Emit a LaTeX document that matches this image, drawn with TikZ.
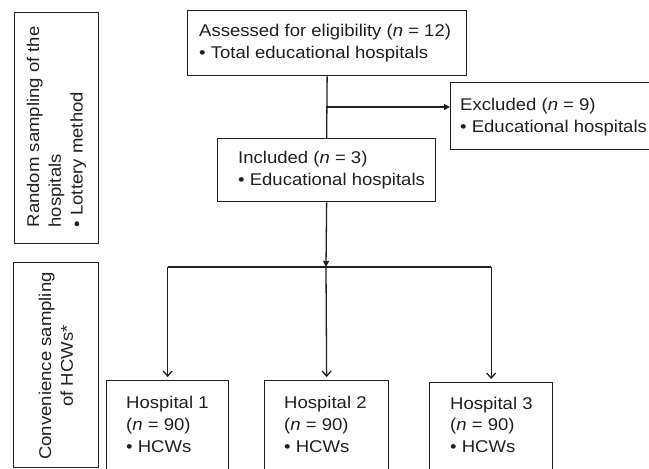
\documentclass[tikz,border=0pt]{standalone}
\usepackage{fontspec}
\setmainfont{Liberation Sans}[FakeStretch=1.09]
\usetikzlibrary{arrows.meta}
\definecolor{ink}{HTML}{231F20}
\begin{document}
\begin{tikzpicture}[x=1pt,y=-1pt,
  box/.style={draw=ink, line width=1.3pt, inner sep=0pt, anchor=north west},
  txt/.style={inner sep=0pt, align=left, text=ink, font=\fontsize{17}{21.8}\selectfont},
  conn/.style={draw=ink, line width=1.3pt},
  fillhead/.style={-{Triangle[length=6pt,width=6pt]}},
  openhead/.style={-{Straight Barb[length=5pt,width=9pt]}, shorten >=3pt}]
\useasboundingbox (0,0) rectangle (649,469);
\fill[white] (0,0) rectangle (649,469);
\clip (0,0) rectangle (649,469);
% boxes
\node[box, minimum width=84pt, minimum height=231pt] (lb1) at (14,12) {};
\node[box, minimum width=85pt, minimum height=205pt] (lb2) at (13,262) {};
\node[box, minimum width=279pt, minimum height=65pt] (top) at (187,10) {};
\node[box, minimum width=215pt, minimum height=67pt] (excl) at (450,82) {};
\node[box, minimum width=218pt, minimum height=63pt] (inc) at (217,138) {};
\node[box, minimum width=122pt, minimum height=120pt] (h1) at (106,380) {};
\node[box, minimum width=124pt, minimum height=120pt] (h2) at (264,380) {};
\node[box, minimum width=123pt, minimum height=120pt] (h3) at (429,382) {};
% texts
\node[txt, rotate=90, anchor=west] (tlb1) at (56.5,227.5) {Random sampling of the\\hospitals\\• Lottery method};
\node[txt, rotate=90, align=center] (tlb2) at (56,366) {Convenience sampling\\of HCWs*};
\node[txt, anchor=west] (ttop) at (199,43) {Assessed for eligibility (\textit{n} = 12)\\• Total educational hospitals};
\node[txt, anchor=west] (texcl) at (460,117) {Excluded (\textit{n} = 9)\\• Educational hospitals};
\node[txt, anchor=west] (tinc) at (238,170) {Included (\textit{n} = 3)\\• Educational hospitals};
\node[txt, anchor=north west] (th1) at (126,396) {Hospital 1\\(\textit{n} = 90)\\• HCWs};
\node[txt, anchor=north west] (th2) at (284,396) {Hospital 2\\(\textit{n} = 90)\\• HCWs};
\node[txt, anchor=north west] (th3) at (450,396.5) {Hospital 3\\(\textit{n} = 90)\\• HCWs};
% connectors
\coordinate (br) at (326,107);
\coordinate (jn) at (326,267);
\draw[conn] (top.south) -- (inc.north);
\draw[conn, fillhead] (br) -- (br -| excl.west);
\draw[conn, fillhead] (inc.south) -- (jn);
\draw[conn] (h1.north |- jn) -- (h3.north |- jn);
\draw[conn, openhead] (h1.north |- jn) -- (h1.north);
\draw[conn, openhead] (jn) -- (h2.north);
\draw[conn, openhead] (h3.north |- jn) -- (h3.north);
\end{tikzpicture}
\end{document}
